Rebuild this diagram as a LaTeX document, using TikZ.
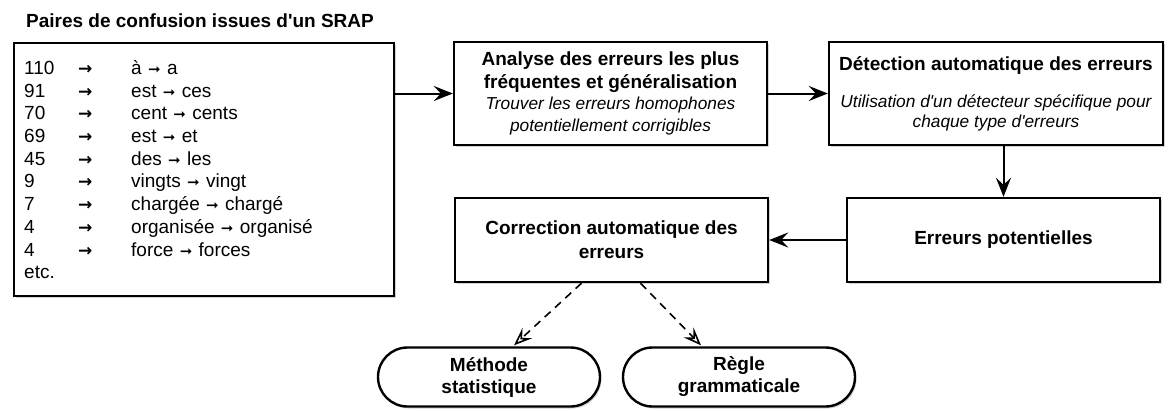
\documentclass[tikz,border=0pt]{standalone}
\usepackage{fontspec}
\setmainfont{Liberation Sans}[Ligatures=TeXOff]
\newfontfamily\symfont{DejaVu Sans}
\usetikzlibrary{arrows.meta,shapes.misc,shadows,calc}
\newcommand\prow[3]{\makebox[54pt][l]{#1}\makebox[53pt][l]{\symfont\bfseries\fontsize{17}{17}\selectfont →}#2 {\symfont\fontsize{15}{15}\selectfont ➞} #3}
\newcommand\itl[1]{{\itshape\fontsize{17.3}{20}\selectfont #1}}
\begin{document}
\begin{tikzpicture}[x=1pt,y=-1pt,
  font=\fontsize{19}{23}\selectfont,
  box/.style={draw, line width=2.4pt, fill=white,
    drop shadow={opacity=0.35,shadow xshift=1.5pt,shadow yshift=-2pt},
    align=center, inner sep=0pt},
  oval/.style={box, rounded rectangle, font=\bfseries\fontsize{19}{22}\selectfont},
  conn/.style={line width=2pt, -{Stealth[length=19pt,width=15pt,inset=7pt]}},
  dconn/.style={line width=1.6pt, dash pattern=on 8pt off 6pt, -{Stealth[open,length=18pt,width=14pt,inset=7pt]}}
  ]
\useasboundingbox (0,0) rectangle (1168,410);

\node[font=\bfseries\fontsize{19}{20}\selectfont] (title) at (200,21) {Paires de confusion issues d'un SRAP};

\node[box, anchor=north west, minimum width=380pt, minimum height=253pt,
  text width=360pt, align=left, font=\fontsize{19}{22.7}\selectfont] (lb) at (13,42)
  {\prow{110}{à}{a}\\
   \prow{91}{est}{ces}\\
   \prow{70}{cent}{cents}\\
   \prow{69}{est}{et}\\
   \prow{45}{des}{les}\\
   \prow{9}{vingts}{vingt}\\
   \prow{7}{chargée}{chargé}\\
   \prow{4}{organisée}{organisé}\\
   \prow{4}{force}{forces}\\
   etc.};

\node[box, minimum width=313pt, minimum height=103pt] (b1) at (610.5,93.5)
  {\textbf{Analyse des erreurs les plus}\\\textbf{fréquentes et généralisation}\\[-2pt]
   \itl{Trouver les erreurs homophones}\\[-1pt]\itl{potentiellement corrigibles}};

\node[box, minimum width=334pt, minimum height=103pt] (b2) at (996,93.5)
  {\textbf{Détection automatique des erreurs}\\[14pt]
   \itl{Utilisation d'un détecteur spécifique pour}\\[-3pt]\itl{chaque type d'erreurs}};

\node[box, minimum width=313pt, minimum height=84pt, font=\bfseries\fontsize{19}{24}\selectfont] (ep) at (1003.5,240)
  {Erreurs potentielles};

\node[box, minimum width=313pt, minimum height=84pt, font=\bfseries\fontsize{19}{24}\selectfont] (corr) at (611.5,240)
  {Correction automatique des\\erreurs};

\node[oval, minimum width=222pt, minimum height=59pt] (ms) at (489,377)
  {Méthode\\statistique};
\node[oval, minimum width=232pt, minimum height=59pt] (rg) at (739,377)
  {Règle\\grammaticale};

\draw[conn] (b1.west -| lb.east) -- (b1.west);
\draw[conn] (b1.east) -- (b2.west);
\draw[conn] (ep.north |- b2.south) -- (ep.north);
\draw[conn] (ep.west) -- (corr.east);
\draw[dconn] ($(corr.south)+(-30,0)$) -- ($(ms.north)+(25,-1)$);
\draw[dconn] ($(corr.south)+(29,0)$) -- ($(rg.north)+(-38,-1)$);
\end{tikzpicture}
\end{document}
